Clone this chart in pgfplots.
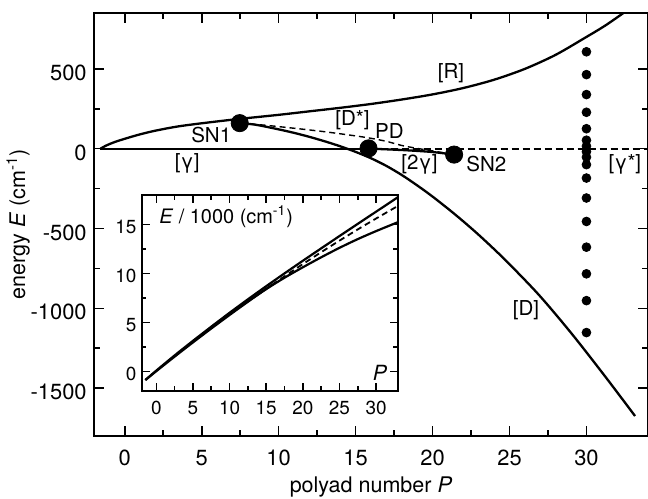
\documentclass[border=0pt]{standalone}
\usepackage{fontspec}
\setmainfont{TeX Gyre Heros}
\usepackage{pgfplots}
\pgfplotsset{compat=1.18}
\begin{document}
\fontsize{10.5}{12}\selectfont
\begin{tikzpicture}
\useasboundingbox (-47bp,-31.5bp) rectangle (277bp,218bp);
\begin{axis}[
 at={(0,0)}, anchor=south west,
 scale only axis, width=277bp, height=211.5bp,
 xmin=-2, xmax=34, ymin=-1800, ymax=850,
 xtick={0,5,...,30}, ytick={-1500,-1000,...,500},
 minor x tick num=1, minor y tick num=1,
 tick align=inside,
 major tick length=5bp, minor tick length=2.8bp,
 axis line style={line width=1.2bp},
 every tick/.style={line width=0.8bp, black},
 scaled ticks=false,
 /pgf/number format/assume math mode=true,
 /pgf/number format/1000 sep={},
 ticklabel style={font=\fontsize{11}{12}\selectfont},
 xticklabel style={anchor=base, yshift=-14.5bp},
 yticklabel style={yshift=-2bp},
 xlabel={polyad number \textit{P}},
 ylabel={energy \textit{E} (cm\textsuperscript{-1})},
 every axis x label/.style={at={(axis description cs:0.5,-0.134)}, anchor=base},
 every axis y label/.style={at={(axis description cs:-0.137,0.5)}, rotate=90, anchor=center},
 label style={font=\fontsize{10.8}{12}\selectfont},
]
% [R]
\addplot[black, line width=1.15bp, smooth] coordinates {
(-1.58,0) (-1.2,20) (-0.7,40) (0,62) (1,90) (2,113) (3.5,140) (5.5,165) (7.5,187)
(10,212) (12,234) (14,256) (16,280) (18,308) (20,340) (22,380) (24,432) (26,500)
(28,588) (30,700) (31.2,770) (32.4,850) (33,895)};
% [gamma] solid
\addplot[black, line width=1.15bp] coordinates {(-1.58,0) (15.84,0)};
% [gamma*] dashed
\addplot[black, line width=1.1bp, dash pattern=on 3.5bp off 2bp] coordinates {(15.84,0) (34,0)};
% [D]
\addplot[black, line width=1.15bp, smooth] coordinates {
(7.47,160) (8.5,150) (10,121) (11,99) (12,74) (13,46) (14,15) (15,-20) (16,-60)
(17,-108) (18,-165) (19,-230) (20,-300) (21.5,-415) (23,-540) (24.7,-695)
(26.9,-915) (29.05,-1160) (31.2,-1425) (33.16,-1675)};
% [D*] dashed
\addplot[black, line width=0.7bp, dash pattern=on 3bp off 2bp, smooth] coordinates {
(7.47,160) (9,148) (11,128) (13,106) (15,80) (16,65) (17,46) (18,20) (19,2) (20,-14) (21.4,-37)};
% [2gamma]
\addplot[black, line width=1.15bp, smooth] coordinates {
(15.84,0) (17,-4) (18.5,-11) (20,-21) (21.4,-37)};
% bifurcation points
\addplot[only marks, mark=*, mark size=4.3bp, black] coordinates {(7.47,160) (15.84,2) (21.4,-37)};
% quantum levels at P=30
\addplot[only marks, mark=*, mark size=2.2bp, black] coordinates {
(30,607) (30,464) (30,339) (30,228) (30,125) (30,53) (30,16) (30,-19) (30,-53)
(30,-100) (30,-184) (30,-309) (30,-456) (30,-617) (30,-784) (30,-952) (30,-1152)};
\begin{scope}[font=\fontsize{10.3}{12}\selectfont]
\node at (axis cs:21.2,470) {[R]};
\node at (axis cs:14.8,176) {[D*]};
\node at (axis cs:17.2,113) {PD};
\node at (axis cs:5.62,83) {SN1};
\node at (axis cs:4.06,-89) {[γ]};
\node at (axis cs:19.15,-100) {[2γ]};
\node at (axis cs:23.5,-94) {SN2};
\node at (axis cs:32.5,-100) {[γ*]};
\node at (axis cs:26.07,-1010) {[D]};
\end{scope}
\end{axis}
% inset
\begin{axis}[
 at={(23.85bp,22.5bp)}, anchor=south west,
 scale only axis, width=128.15bp, height=98bp,
 xmin=-2, xmax=33, ymin=-2, ymax=18,
 xtick={0,5,...,30}, ytick={0,5,10,15},
 minor x tick num=1, minor y tick num=1,
 tick align=inside,
 major tick length=4bp, minor tick length=2.3bp,
 axis line style={line width=1.1bp},
 every tick/.style={line width=0.8bp, black},
 axis background/.style={fill=white},
 /pgf/number format/assume math mode=true,
 ticklabel style={font=\fontsize{9.5}{10}\selectfont},
 xticklabel style={anchor=base, yshift=-12bp},
 yticklabel style={yshift=-1.5bp, xshift=1bp},
]
\addplot[black, line width=1.1bp, smooth] coordinates {
(-1.5,-0.88) (0,0.086) (2.5,1.632) (5,3.118) (7.5,4.561) (10,5.979) (12.5,7.352)
(15,8.692) (17.5,9.999) (20,11.284) (22.5,12.549) (25,13.804) (27.5,15.049)
(30,16.293) (32.5,17.531) (33.3,17.932)};
\addplot[black, line width=1.1bp, smooth] coordinates {
(-1.5,-0.88) (0,0.026) (2.5,1.509) (5,2.959) (7.5,4.374) (10,5.756) (12.5,7.104)
(15,8.419) (15.84,8.853)};
\addplot[black, line width=0.9bp, dash pattern=on 3bp off 2bp, smooth] coordinates {
(15.84,8.853) (17.5,9.699) (20,10.946) (22.5,12.159) (25,13.339) (27.5,14.484)
(30,15.596) (32.5,16.674) (33.3,17.012)};
\addplot[black, line width=1.1bp, smooth] coordinates {
(7.5,4.534) (10,5.875) (12.5,7.161) (15,8.399) (17.5,9.558) (20,10.621)
(22.5,11.639) (25,12.605) (27.5,13.497) (30,14.312) (32.5,15.078) (33,15.231)};
\node[anchor=west, font=\fontsize{10}{12}\selectfont] at (rel axis cs:0.04,0.89) {\textit{E} / 1000 (cm\textsuperscript{-1})};
\node[font=\fontsize{10.5}{12}\selectfont] at (rel axis cs:0.93,0.094) {\textit{P}};
\end{axis}
\end{tikzpicture}
\end{document}
